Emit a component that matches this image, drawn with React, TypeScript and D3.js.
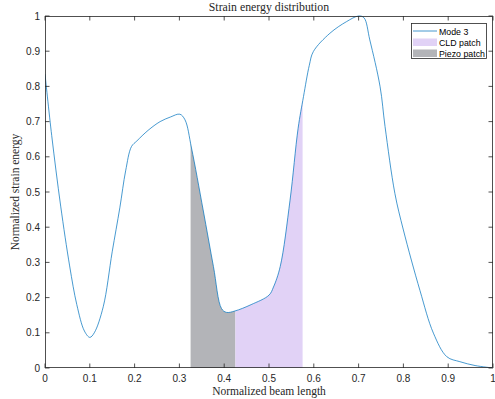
import React from "react";
import * as d3 from "d3";

const xs = [0, 0.015, 0.035, 0.055, 0.071, 0.088, 0.1, 0.11, 0.13, 0.15, 0.167, 0.18, 0.193, 0.205, 0.23, 0.257, 0.28, 0.301, 0.3125, 0.327, 0.353, 0.376, 0.394, 0.405, 0.424, 0.46, 0.5, 0.51, 0.525, 0.547, 0.565, 0.577, 0.59, 0.599, 0.636, 0.673, 0.7, 0.712, 0.725, 0.748, 0.759, 0.781, 0.8, 0.837, 0.867, 0.897, 0.926, 0.96, 1.0];
const ys = [0.835, 0.66, 0.46, 0.29, 0.18, 0.105, 0.087, 0.1, 0.174, 0.33, 0.455, 0.56, 0.629, 0.645, 0.675, 0.7, 0.713, 0.721, 0.705, 0.625, 0.449, 0.288, 0.169, 0.158, 0.162, 0.18, 0.207, 0.23, 0.288, 0.477, 0.681, 0.771, 0.86, 0.899, 0.951, 0.984, 1.0, 0.995, 0.932, 0.799, 0.686, 0.496, 0.392, 0.22, 0.099, 0.032, 0.018, 0.007, 0.0];
const piezoRange = [0.325, 0.425];
const cldRange = [0.425, 0.575];
const xTicks = [0, 0.1, 0.2, 0.3, 0.4, 0.5, 0.6, 0.7, 0.8, 0.9, 1];
const yTicks = [0, 0.1, 0.2, 0.3, 0.4, 0.5, 0.6, 0.7, 0.8, 0.9, 1];
const legendLabels = ["Mode 3", "CLD patch", "Piezo patch"];

const W = 495, H = 399;
const L = 45, R = 493, T = 16, B = 368;

export default function App() {
  const x = d3.scaleLinear().domain([0, 1]).range([L, R]);
  const y = d3.scaleLinear().domain([0, 1]).range([B, T]);
  const pts: [number, number][] = xs.map((v, i) => [v, ys[i]]);
  const curve = d3.curveCatmullRom.alpha(0.5);
  const line = d3.line<[number, number]>().x(d => x(d[0])).y(d => y(d[1])).curve(curve);
  const area = d3.area<[number, number]>().x(d => x(d[0])).y0(y(0)).y1(d => y(d[1])).curve(curve);
  const axisCol = "#262626";
  const lineCol = "#0072BD";
  const cldCol = "#e1d2f6";
  const piezoCol = "#b3b4b8";
  const sans = "'Liberation Sans', Arial, sans-serif";
  const serif = "'Liberation Serif', 'DejaVu Serif', serif";
  return (
    <svg width={W} height={H} style={{ position: "absolute", left: 0, top: 0, background: "#fff" }}>
      <defs>
        <clipPath id="clipPiezo">
          <rect x={x(piezoRange[0])} y={T} width={x(piezoRange[1]) - x(piezoRange[0])} height={B - T} />
        </clipPath>
        <clipPath id="clipCld">
          <rect x={x(cldRange[0])} y={T} width={x(cldRange[1]) - x(cldRange[0])} height={B - T} />
        </clipPath>
        <clipPath id="clipPlot">
          <rect x={L} y={T - 1} width={R - L} height={B - T + 1} />
        </clipPath>
      </defs>
      <path d={area(pts) || ""} fill={piezoCol} clipPath="url(#clipPiezo)" />
      <path d={area(pts) || ""} fill={cldCol} clipPath="url(#clipCld)" />
      <path d={line(pts) || ""} fill="none" stroke={lineCol} strokeWidth={0.9} opacity={0.8} clipPath="url(#clipPlot)" />
      <rect x={L + 0.5} y={T + 0.5} width={R - L - 1} height={B - T - 1} fill="none" stroke={axisCol} strokeWidth={0.8} />
      {xTicks.map((t, i) => (
        <g key={"x" + i}>
          <line x1={x(t)} x2={x(t)} y1={B} y2={B - 4.5} stroke={axisCol} strokeWidth={0.8} />
          <line x1={x(t)} x2={x(t)} y1={T} y2={T + 4.5} stroke={axisCol} strokeWidth={0.8} />
          <text x={x(t)} y={382} textAnchor="middle" fontSize={10} fontFamily={sans} fill={axisCol}>{String(t)}</text>
        </g>
      ))}
      {yTicks.map((t, i) => (
        <g key={"y" + i}>
          <line x1={L} x2={L + 4.5} y1={y(t)} y2={y(t)} stroke={axisCol} strokeWidth={0.8} />
          <line x1={R} x2={R - 4.5} y1={y(t)} y2={y(t)} stroke={axisCol} strokeWidth={0.8} />
          <text x={40} y={y(t) + 3.5} textAnchor="end" fontSize={10} fontFamily={sans} fill={axisCol}>{String(t)}</text>
        </g>
      ))}
      <text x={(L + R) / 2} y={11} textAnchor="middle" fontSize={11.8} fontFamily={serif} fill={axisCol}>Strain energy distribution</text>
      <text x={(L + R) / 2} y={395} textAnchor="middle" fontSize={11.5} fontFamily={serif} fill={axisCol}>Normalized beam length</text>
      <text transform={`translate(19,${(T + B) / 2}) rotate(-90)`} textAnchor="middle" fontSize={11.5} fontFamily={serif} fill={axisCol}>Normalized strain energy</text>
      <g>
        <rect x={411.5} y={23.5} width={75} height={35} fill="#fff" stroke={axisCol} strokeWidth={0.8} />
        <line x1={413} x2={437} y1={31} y2={31} stroke={lineCol} strokeWidth={0.9} opacity={0.8} />
        <rect x={413} y={38.5} width={24} height={7.5} fill={cldCol} />
        <rect x={413} y={49.5} width={24} height={7.5} fill={piezoCol} />
        {legendLabels.map((s, i) => (
          <text key={s} x={439} y={34.5 + i * 11} fontSize={8.8} fontFamily={sans} fill="#000">{s}</text>
        ))}
      </g>
    </svg>
  );
}
